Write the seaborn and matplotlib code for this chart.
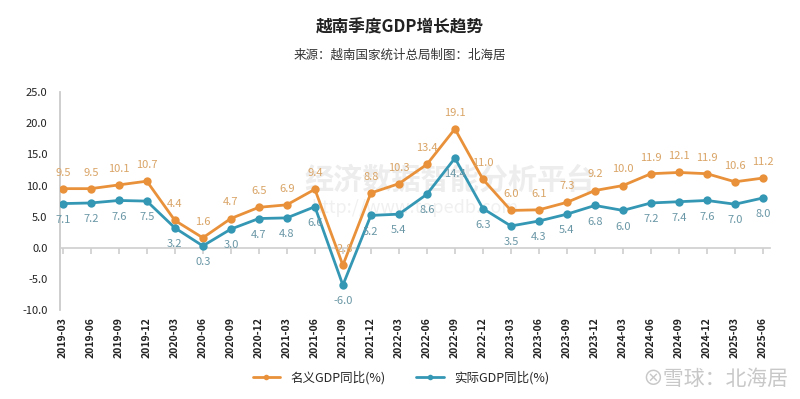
import matplotlib
matplotlib.use("Agg")
import matplotlib.pyplot as plt
import seaborn as sns
import numpy as np
import pandas as pd

quarters = ["2019-03", "2019-06", "2019-09", "2019-12", "2020-03", "2020-06", "2020-09", "2020-12",
            "2021-03", "2021-06", "2021-09", "2021-12", "2022-03", "2022-06", "2022-09", "2022-12",
            "2023-03", "2023-06", "2023-09", "2023-12", "2024-03", "2024-06", "2024-09", "2024-12",
            "2025-03", "2025-06"]
nominal = [9.5, 9.5, 10.1, 10.7, 4.4, 1.6, 4.7, 6.5, 6.9, 9.4, -2.8, 8.8, 10.3, 13.4, 19.1, 11.0,
           6.0, 6.1, 7.3, 9.2, 10.0, 11.9, 12.1, 11.9, 10.6, 11.2]
real = [7.1, 7.2, 7.6, 7.5, 3.2, 0.3, 3.0, 4.7, 4.8, 6.6, -6.0, 5.2, 5.4, 8.6, 14.4, 6.3,
        3.5, 4.3, 5.4, 6.8, 6.0, 7.2, 7.4, 7.6, 7.0, 8.0]
series_names = ["名义GDP同比(%)", "实际GDP同比(%)"]
y_ticks = [-10, -5, 0, 5, 10, 15, 20, 25]

orange = "#E8913A"
teal = "#3497B4"

sns.set_theme(style="white")
plt.rcParams['font.family'] = ['Noto Sans CJK SC', 'DejaVu Sans']

idx = np.arange(len(quarters))
df = pd.DataFrame({
    "idx": np.concatenate([idx, idx]),
    "value": nominal + real,
    "series": [series_names[0]] * len(quarters) + [series_names[1]] * len(quarters),
})

fig = plt.figure(figsize=(8, 3.99), dpi=100)
ax = fig.add_axes([0.075, 0.223, 0.8875, 0.546])

# faint watermark behind everything
ax.text(0.55, 0.6, "经济数据智能分析平台", transform=ax.transAxes, fontsize=21, fontweight="bold",
        color="#EDEDED", ha="center", va="center", zorder=0)
ax.text(0.5, 0.47, "http://www.topedb.com", transform=ax.transAxes, fontsize=13, style="italic",
        color="#F0F0F0", ha="center", va="center", zorder=0)

sns.lineplot(data=df, x="idx", y="value", hue="series", palette=[orange, teal],
             marker="o", markersize=6, markeredgewidth=0, linewidth=2, ax=ax, zorder=3)

for i, v in enumerate(nominal):
    ax.annotate(f"{v:.1f}", (i, v), xytext=(0, 8), textcoords="offset points",
                ha="center", va="bottom", fontsize=8, color="#D9A466", zorder=4)
for i, v in enumerate(real):
    ax.annotate(f"{v:.1f}", (i, v), xytext=(0, -8), textcoords="offset points",
                ha="center", va="top", fontsize=8, color="#6A97A6", zorder=4)

ax.set_ylim(-10, 25)
ax.set_xlim(-0.1, len(quarters) - 0.75)
ax.set_yticks(y_ticks)
ax.set_yticklabels([f"{t:.1f}" for t in y_ticks], fontsize=8, color="#222")
ax.set_xlabel("")
ax.set_ylabel("")

for s in ["top", "right"]:
    ax.spines[s].set_visible(False)
ax.spines["left"].set_color("#C8C8C8")
ax.spines["bottom"].set_position(("data", 0))
ax.spines["bottom"].set_color("#D0D0D0")
ax.set_xticks(idx)
ax.tick_params(axis="x", bottom=True, length=4, color="#D0D0D0", labelbottom=False)
ax.tick_params(axis="y", left=False, pad=3)

secax = ax.secondary_xaxis("bottom")
secax.set_xticks(idx, labels=quarters, rotation=90, fontsize=7.5, fontweight="bold", color="#222")
secax.tick_params(length=0, pad=5)
secax.spines["bottom"].set_visible(False)

handles, labels = ax.get_legend_handles_labels()
ax.legend(handles, labels, loc="center", bbox_to_anchor=(0.48, -0.31), ncol=2, frameon=False,
          fontsize=9, handlelength=2.2, columnspacing=2.5)
for h in ax.get_legend().legend_handles:
    h.set_markersize(4)

fig.text(0.5, 0.93, "越南季度GDP增长趋势", ha="center", va="center", fontsize=12,
         fontweight="bold", color="#222")
fig.text(0.5, 0.862, "来源：越南国家统计总局制图：北海居", ha="center", va="center", fontsize=9,
         style="italic", color="#333")
fig.text(0.985, 0.05, "⊗雪球：北海居", ha="right", va="center", fontsize=15, color="#C8C8C8")

fig.savefig("out.png", dpi=100)
plt.close(fig)
